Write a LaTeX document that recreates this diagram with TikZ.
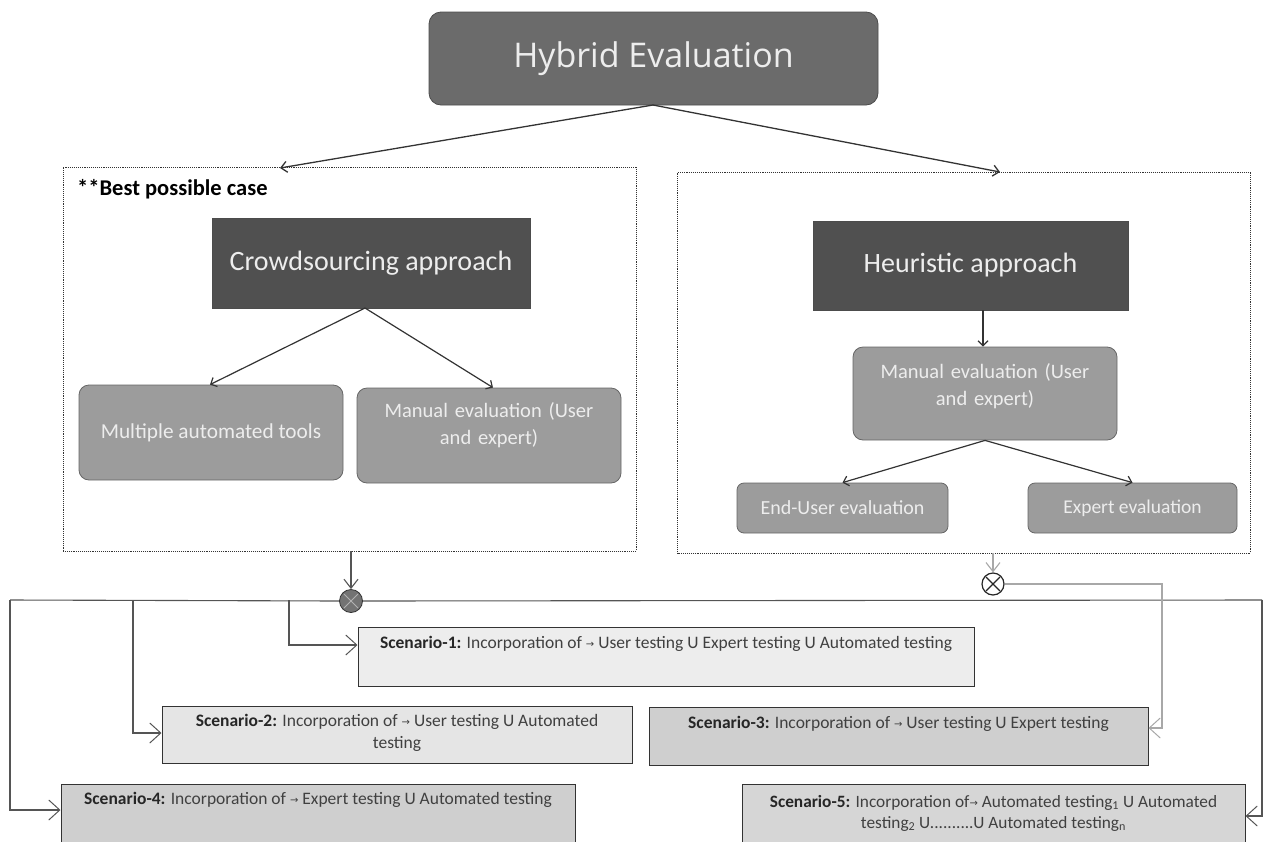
\documentclass[tikz,border=0pt]{standalone}
\usepackage{fontspec}
\setmainfont{Carlito}
\newfontfamily\symf{DejaVu Sans}
\newfontfamily\widef{Open Sans}
\usetikzlibrary{arrows.meta}
\definecolor{hyb}{HTML}{6B6B6B}
\definecolor{dark}{HTML}{505050}
\definecolor{mid}{HTML}{9C9C9C}
\definecolor{txtl}{HTML}{EDEDED}
\definecolor{ln}{HTML}{555555}
\definecolor{lgr}{HTML}{A8A8A8}
\newcommand{\ar}{{\symf\fontsize{10}{10}\selectfont\raisebox{1pt}{→}}}
\newcommand{\un}{U}
\tikzset{
  dbox/.style={draw=black!80, densely dotted, line width=0.9pt},
  sqdark/.style={draw=black!70, fill=dark, text=txtl, line width=0.8pt},
  rmid/.style={draw=black!60, fill=mid, text=txtl, rounded corners=10pt, line width=0.8pt, align=center},
  midtext/.style={text=txtl, align=center, text width=250pt},
  scen/.style={draw=black!80, line width=1pt},
  scentext/.style={anchor=north, align=center, text=black!75, font=\fontsize{17.5}{22}\selectfont},
  topar/.style={-{Straight Barb[length=6pt,width=11pt]}, line width=1.3pt, draw=black!80},
  inar/.style={-{Straight Barb[length=5pt,width=10pt]}, line width=1.2pt, draw=black!80},
  scar/.style={-{Straight Barb[length=11pt,width=20pt,line width=1pt]}, line width=1.1pt, draw=ln},
}
\begin{document}
\begin{tikzpicture}[x=1pt,y=-1pt]
\useasboundingbox (0,0) rectangle (1264,841);
% top
\node[draw=black!70, fill=hyb, text=txtl, rounded corners=12pt, line width=0.8pt,
      minimum width=449pt, minimum height=93pt, font=\widef\fontsize{34}{38}\selectfont] (hyb) at (653.5,58.5) {Hybrid Evaluation};
% dashed containers
\node[dbox, minimum width=573pt, minimum height=384pt] (lbox) at (349.5,359) {};
\node[dbox, minimum width=573pt, minimum height=381pt] (rbox) at (964,362.5) {};
\node[anchor=west, inner sep=0pt, font=\bfseries\fontsize{22.5}{24}\selectfont] (best) at (77,189) {**Best possible case};
% left contents
\node[sqdark, minimum width=318pt, minimum height=90pt, font=\fontsize{28}{30}\selectfont] (crowd) at (371,263) {Crowdsourcing approach};
\node[rmid, minimum width=264pt, minimum height=95pt, font=\fontsize{21.3}{24}\selectfont] (mat) at (211,432.5) {Multiple automated tools};
\node[rmid, minimum width=264pt, minimum height=95pt] (man1) at (489,435.5) {};
\node[midtext, font=\fontsize{20.5}{27}\selectfont] (man1t) at ([yshift=10pt]man1.center) {Manual evaluation (User\\and expert)};
% right contents
\node[sqdark, minimum width=315pt, minimum height=89pt, font=\fontsize{28}{30}\selectfont] (heur) at (970.5,265.5) {Heuristic approach};
\node[rmid, minimum width=264pt, minimum height=93pt] (man2) at (985,393.5) {};
\node[midtext, font=\fontsize{20.5}{27}\selectfont] (man2t) at ([yshift=7pt]man2.center) {Manual evaluation (User\\and expert)};
\node[rmid, rounded corners=7pt, minimum width=211pt, minimum height=50pt, font=\fontsize{20}{24}\selectfont] (endu) at (842.5,508) {End-User evaluation};
\node[rmid, rounded corners=7pt, minimum width=209pt, minimum height=50pt, font=\fontsize{19.5}{24}\selectfont] (expe) at (1132.5,508) {Expert evaluation};
% top arrows
\coordinate (hb) at (653,105);
\coordinate (lt) at (280,168);
\coordinate (rt) at (1000,172);
\draw[topar] (hb) -- (lt);
\draw[topar] (hb) -- (rt);
\coordinate (cb) at (365,308);
\draw[inar] (cb) -- (mat.north -| 210,0);
\draw[inar] (cb) -- (man1.north -| 493,0);
\draw[inar] (heur.south -| 983,0) -- (man2.north -| 983,0);
\draw[inar] (man2.south) -- (endu.north);
\draw[inar] (man2.south) -- (expe.north);
% scenario boxes
\node[scen, fill=black!7, minimum width=616pt, minimum height=59pt] (s1) at (666,657) {};
\node[scen, fill=black!10, minimum width=470pt, minimum height=57pt] (s2) at (397,734.5) {};
\node[scen, fill=black!19, minimum width=499pt, minimum height=58pt] (s3) at (898.5,736) {};
\node[scen, fill=black!19, minimum width=514pt, minimum height=62pt] (s4) at (318,815) {};
\node[scen, fill=black!16, minimum width=503pt, minimum height=62pt] (s5) at (993.5,815) {};
\node[scentext] (t1) at ([yshift=-6pt]s1.north) {\textbf{\textcolor{black!85}{Scenario-1:}} Incorporation of \ar{} User testing \un{} Expert testing \un{} Automated testing};
\node[scentext] (t2) at ([yshift=-5pt]s2.north) {\textbf{\textcolor{black!85}{Scenario-2:}} Incorporation of \ar{} User testing \un{} Automated\\testing};
\node[scentext] (t3) at ([yshift=-6pt]s3.north) {\textbf{\textcolor{black!85}{Scenario-3:}} Incorporation of \ar{} User testing \un{} Expert testing};
\node[scentext] (t4) at ([yshift=-5pt]s4.north) {\textbf{\textcolor{black!85}{Scenario-4:}} Incorporation of \ar{} Expert testing \un{} Automated testing};
\node[scentext, font=\fontsize{17.3}{21}\selectfont] (t5) at ([yshift=-8pt]s5.north) {\textbf{\textcolor{black!85}{Scenario-5:}} Incorporation of\ar{} Automated testing\textsubscript{1} \un{} Automated\\testing\textsubscript{2} \un{}..........\un{} Automated testing\textsubscript{n}};
% junctions
\node[circle, draw=black!80, fill=black!55, minimum size=23pt, inner sep=0pt, line width=0.8pt] (j1) at (351,601) {};
\draw[black!30, line width=1pt] ([shift={(-7,-7)}]j1.center) -- ([shift={(7,7)}]j1.center) ([shift={(-7,7)}]j1.center) -- ([shift={(7,-7)}]j1.center);
\node[circle, draw=black!85, fill=white, minimum size=22pt, inner sep=0pt, line width=1.2pt] (j2) at (993,584) {};
\draw[black!85, line width=1.1pt] ([shift={(-7,-7)}]j2.center) -- ([shift={(7,7)}]j2.center) ([shift={(-7,7)}]j2.center) -- ([shift={(7,-7)}]j2.center);
% into junctions
\draw[-{Straight Barb[length=9pt,width=14pt]}, line width=1.1pt, draw=ln] (lbox.south -| j1) -- (j1.north);
\draw[-{Straight Barb[length=9pt,width=14pt]}, line width=1.1pt, draw=lgr] (rbox.south -| j2) -- (j2.north);
% main bus
\coordinate (bl) at (10,600);
\coordinate (br) at (1262,600);
\draw[ln, line width=1.1pt] (bl) -- (j1.west) (j1.east) -- (br);
% branches
\draw[scar] (289,600) |- (s1.west |- 0,645);
\draw[scar] (133,600) |- (s2.west |- 0,733);
\draw[scar] (bl) |- (s4.west |- 0,810);
\draw[scar] (br) |- (s5.east |- 0,816);
\draw[-{Straight Barb[length=11pt,width=20pt,line width=1pt]}, line width=1.1pt, draw=lgr] (j2.east) -| (1162,728) -- (s3.east |- 0,728);
\end{tikzpicture}
\end{document}
